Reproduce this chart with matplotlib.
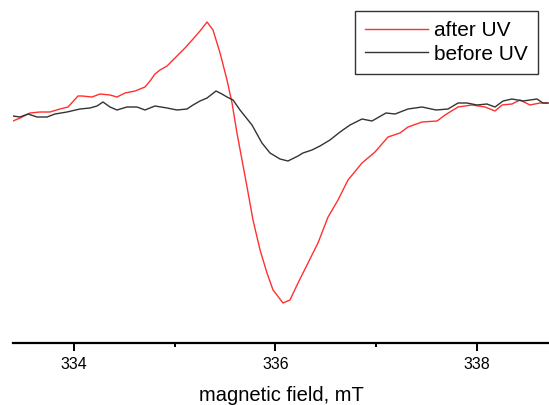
import matplotlib.pyplot as plt

# EPR spectra (field in mT, signal in arbitrary units)
field_after = [333.395, 333.465, 333.564, 333.663, 333.762, 333.861, 333.941, 334.040,
               334.080, 334.179, 334.258, 334.358, 334.427, 334.507, 334.606, 334.705,
               334.755, 334.804, 334.854, 334.924, 335.003, 335.102, 335.182, 335.251,
               335.321, 335.380, 335.450, 335.519, 335.569, 335.618, 335.668, 335.718,
               335.777, 335.847, 335.916, 335.976, 336.075, 336.144, 336.224, 336.323,
               336.422, 336.522, 336.621, 336.720, 336.859, 336.988, 337.117, 337.236,
               337.316, 337.455, 337.604, 337.683, 337.812, 337.951, 338.080, 338.179,
               338.249, 338.348, 338.427, 338.526, 338.626, 338.705]
after_uv = [-11, -8, -3, -2, -2, 1, 3, 14,
            14, 13, 16, 15, 13, 17, 19, 23,
            29, 36, 40, 44, 52, 62, 71, 79,
            88, 80, 57, 30, 7, -23, -50, -77,
            -110, -140, -163, -180, -193, -190, -173, -153,
            -133, -107, -90, -70, -53, -42, -27, -23,
            -17, -12, -11, -5, 3, 5, 3, -1,
            5, 6, 10, 5, 7, 7]

field_before = [333.395, 333.465, 333.544, 333.633, 333.732, 333.812, 333.931, 334.060,
                334.159, 334.229, 334.288, 334.358, 334.427, 334.526, 334.626, 334.705,
                334.804, 334.924, 335.023, 335.122, 335.182, 335.251, 335.321, 335.410,
                335.469, 335.519, 335.579, 335.648, 335.767, 335.866, 335.946, 336.045,
                336.124, 336.224, 336.273, 336.362, 336.442, 336.541, 336.641, 336.740,
                336.859, 336.958, 337.097, 337.187, 337.316, 337.455, 337.594, 337.713,
                337.812, 337.901, 338.000, 338.099, 338.179, 338.259, 338.348, 338.457,
                338.596, 338.655, 338.705]
before_uv = [-6, -7, -4, -7, -7, -4, -2, 1,
             2, 4, 8, 3, 0, 3, 3, 0,
             4, 2, 0, 1, 5, 9, 12, 19,
             16, 13, 10, 0, -15, -33, -43, -49,
             -51, -46, -43, -40, -36, -30, -22, -15,
             -9, -11, -3, -4, 1, 3, 0, 1,
             7, 7, 5, 6, 3, 9, 11, 9,
             11, 7, 7]

xticks_major = [334, 336, 338]
xticks_minor = [335, 337]

plt.rcParams['font.family'] = ['Liberation Sans', 'DejaVu Sans']

fig = plt.figure(figsize=(5.49, 4.05), dpi=100)
ax = fig.add_axes([13/549, 62/405, 536/549, 343/405])

ax.plot(field_after, after_uv, color='#ff3030', lw=1.0, label='after UV')
ax.plot(field_before, before_uv, color='#333333', lw=1.0, label='before UV')

ax.set_xlim(333.395, 338.715)
ax.set_ylim(-233, 110)

for s in ['left', 'right', 'top']:
    ax.spines[s].set_visible(False)
ax.spines['bottom'].set_linewidth(1.6)
ax.set_yticks([])
ax.set_xticks(xticks_major)
ax.set_xticks(xticks_minor, minor=True)
ax.tick_params(axis='x', which='major', length=6, width=1.4, labelsize=11.5, pad=4)
ax.tick_params(axis='x', which='minor', length=3, width=1.4)
ax.set_xlabel('magnetic field, mT', fontsize=14.5, labelpad=10)

leg = ax.legend(loc='upper right', bbox_to_anchor=((538-13)/536, 1-11/343),
                borderaxespad=0, fancybox=False, fontsize=15, labelspacing=0.2,
                handlelength=3.0, handletextpad=0.3, borderpad=0.5)
leg.get_frame().set_edgecolor('black')
leg.get_frame().set_linewidth(1.0)

fig.savefig('out.png', dpi=100)
